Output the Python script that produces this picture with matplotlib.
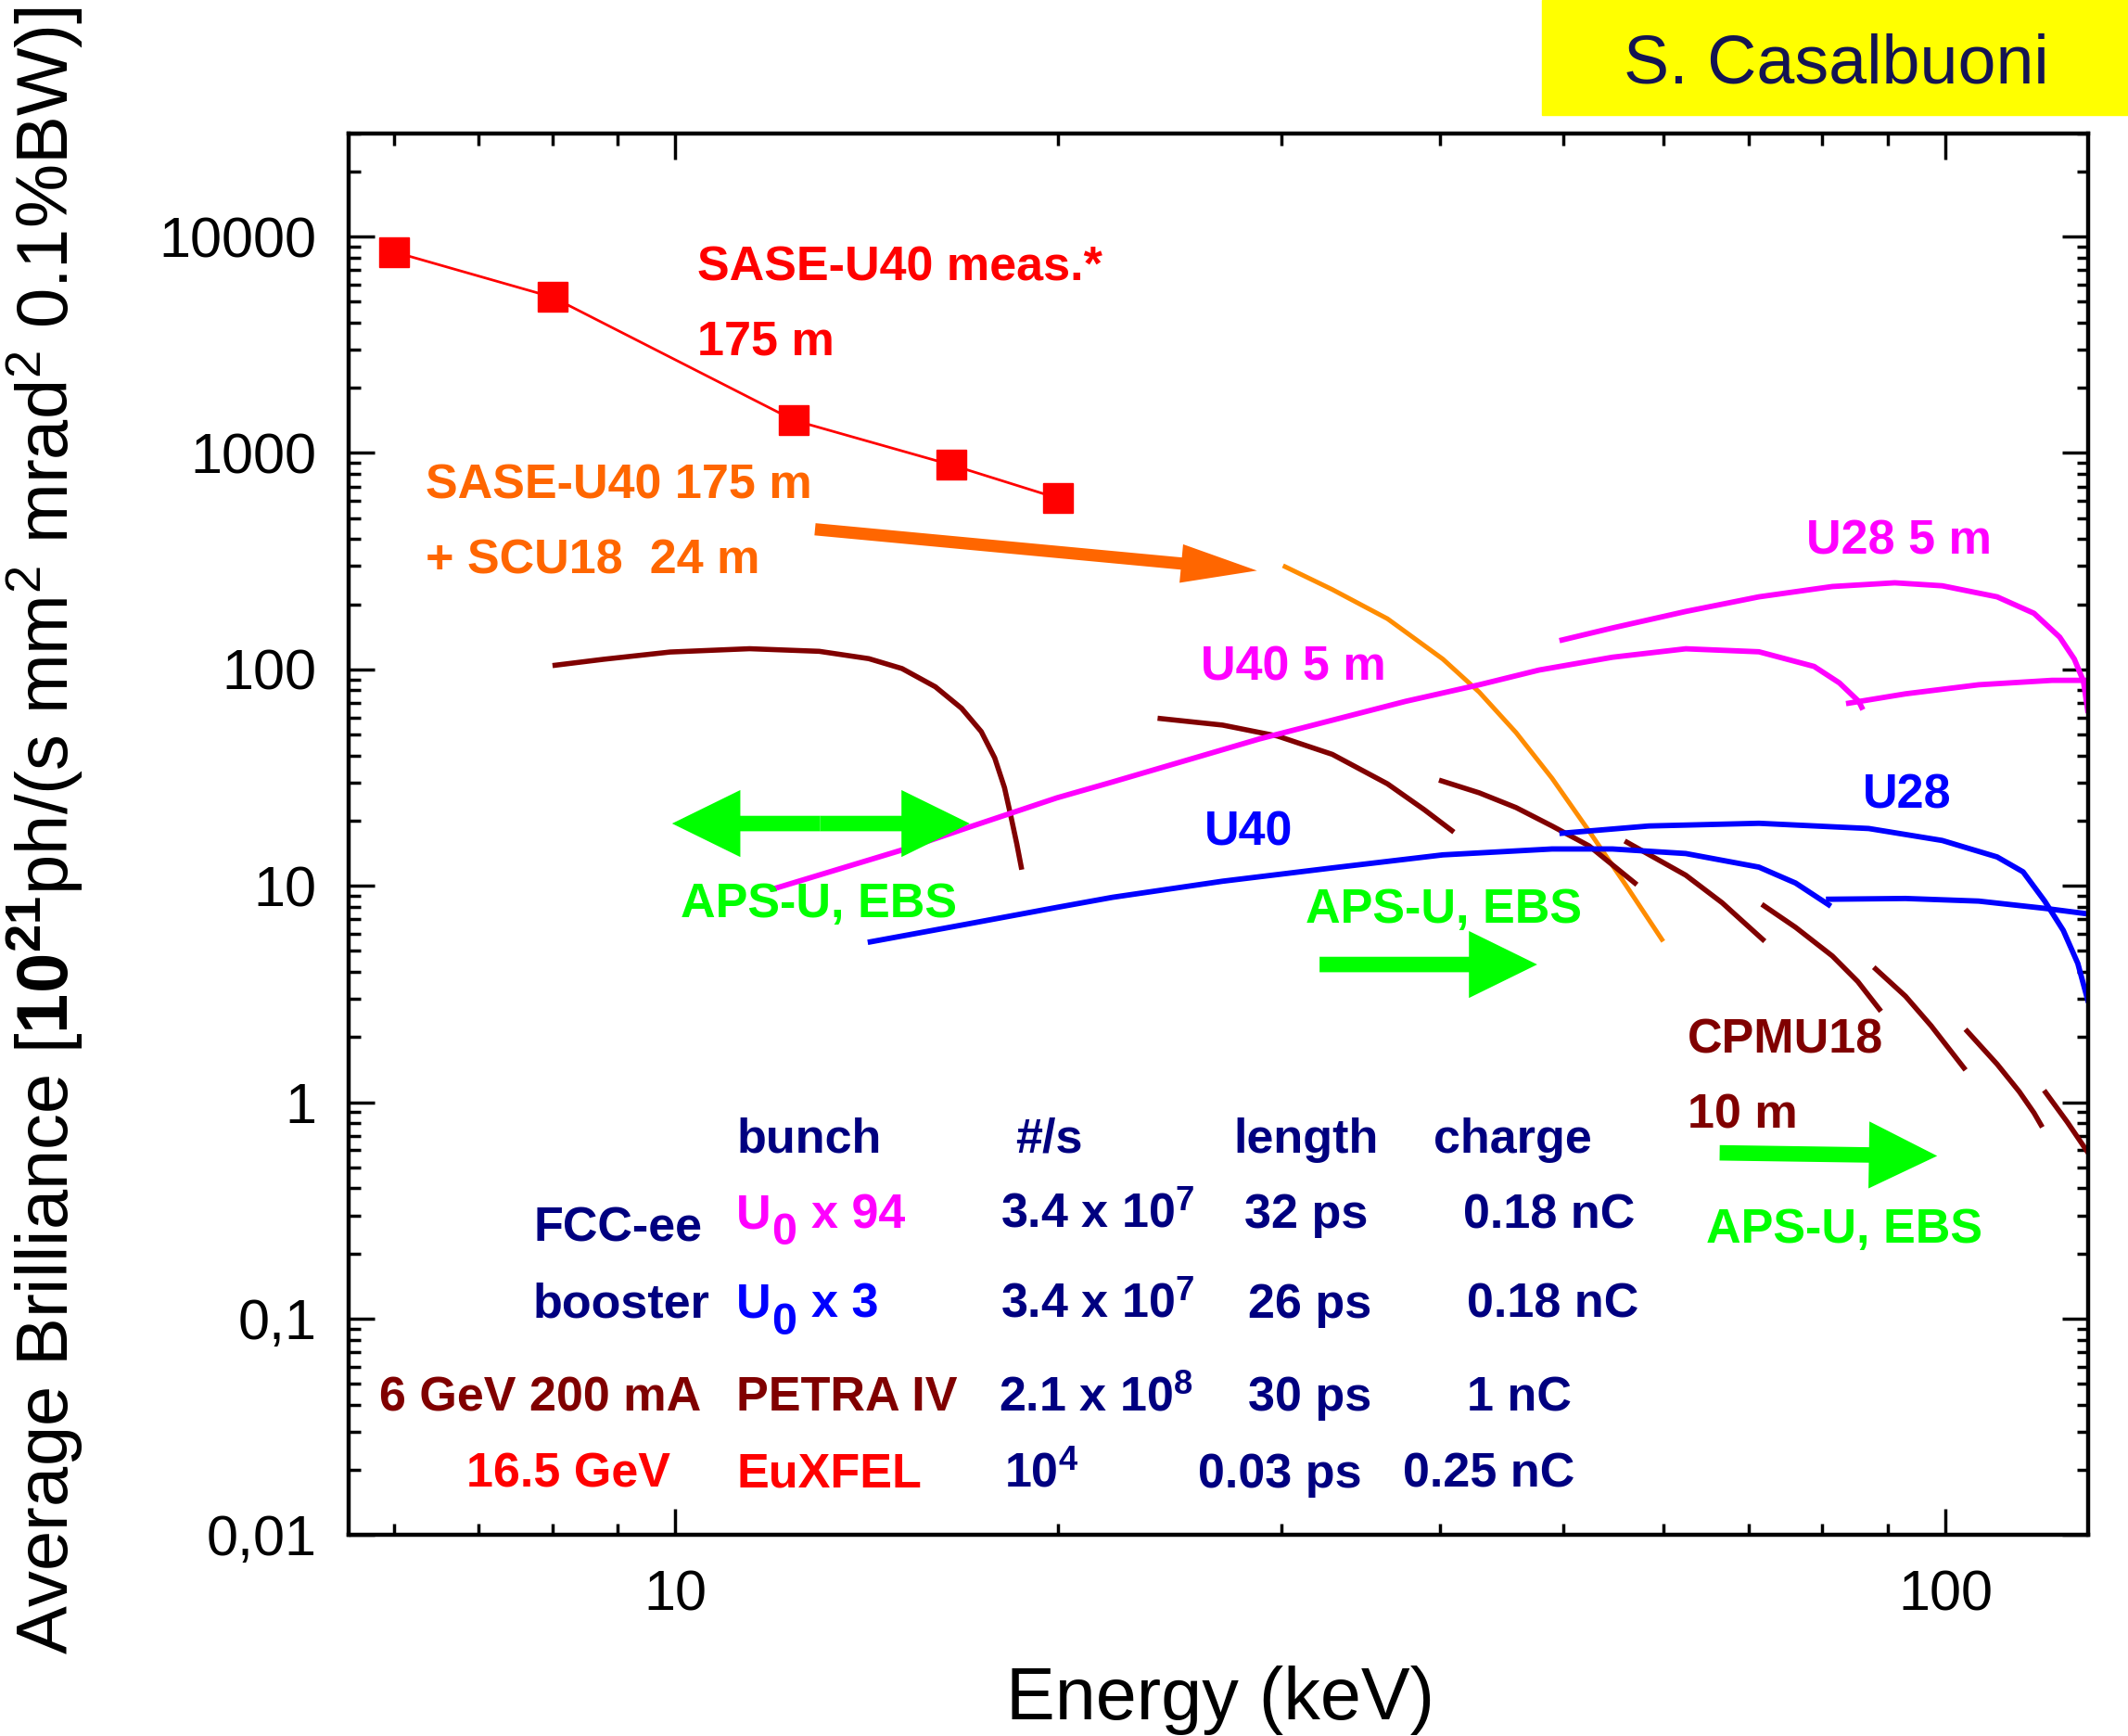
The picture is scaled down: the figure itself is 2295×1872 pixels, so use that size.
import matplotlib
matplotlib.use("Agg")
import matplotlib.pyplot as plt
from matplotlib.patches import Rectangle
from matplotlib.ticker import FixedLocator, FixedFormatter, LogLocator, NullFormatter

plt.rcParams['font.family'] = ['Liberation Sans', 'DejaVu Sans']
plt.rcParams['mathtext.fontset'] = 'custom'
plt.rcParams['mathtext.rm'] = 'Liberation Sans'
plt.rcParams['mathtext.bf'] = 'Liberation Sans:bold'
plt.rcParams['mathtext.it'] = 'Liberation Sans:italic'
plt.rcParams['mathtext.default'] = 'regular'

# EuXFEL SASE-U40 measured points
sase_E = [6.0, 8.0, 12.4, 16.5, 20.0]
sase_B = [8500, 5250, 1415, 880, 618]

# SASE-U40 175 m + SCU18 24 m
scu_E = [30.2, 32.9, 36.36, 40.2, 42.94, 45.9, 49.0, 52.4, 56.0, 59.8]
scu_B = [298.3, 233.9, 171.4, 111.6, 78.5, 51.1, 31.4, 17.9, 10.1, 5.65]

# PETRA IV CPMU18 10 m (harmonic pieces)
cpmu_E = [
    [8.04, 8.785, 9.906, 11.44, 12.98, 14.2, 15.08, 16.02, 16.8, 17.41, 17.84, 18.16, 18.38, 18.57, 18.72],
    [24.08, 26.96, 29.79, 32.9, 36.36, 38.86, 40.86],
    [40.1, 42.94, 45.9, 49.0, 52.4, 56.94],
    [56.13, 62.44, 66.7, 71.8],
    [71.95, 76.2, 81.45, 85.3, 88.7],
    [88.1, 93.0, 97.4, 103.4],
    [104.0, 109.8, 114.3, 117.4, 118.9],
    [119.9, 124.7, 130.0],
]
cpmu_B = [
    [104.5, 111.4, 120.3, 124.6, 121.2, 112.1, 100.9, 83.1, 66.1, 51.6, 39.0, 28.4, 20.7, 15.6, 12.2],
    [59.3, 55.3, 49.2, 40.5, 29.6, 22.5, 18.0],
    [30.55, 26.9, 23.0, 18.9, 15.3, 10.3],
    [15.9, 11.2, 8.35, 5.65],
    [8.09, 6.43, 4.74, 3.61, 2.69],
    [4.13, 3.09, 2.26, 1.44],
    [2.13, 1.50, 1.12, 0.893, 0.785],
    [1.11, 0.81, 0.565],
]

# FCC-ee U40 5 m / U28 5 m (magenta)
u40_5m_E = [[11.95, 15.08, 17.0, 19.97, 22.09, 28.82, 37.58, 42.94, 47.86, 54.67, 62.44, 71.3, 78.8, 82.5, 85.44, 85.9],
            [83.9, 93.0, 106.2, 121.3, 129.5]]
u40_5m_B = [[9.69, 14.64, 18.6, 25.5, 30.2, 47.7, 71.2, 84.9, 99.3, 113.8, 124.5, 120.6, 103.2, 86.6, 71.2, 66.8],
            [69.8, 77.1, 84.9, 89.0, 89.0]]
u28_5m_E = [49.9, 54.67, 62.44, 71.3, 81.45, 91.2, 99.4, 109.8, 117.4, 123.0, 126.3, 128.4, 129.4]
u28_5m_B = [136.7, 155.4, 185.2, 216.4, 241.5, 251.2, 243.4, 216.4, 181.6, 140.9, 111.6, 88.3, 64.7]

# booster U40 / U28 (blue)
u40_E = [[14.24, 17.0, 19.97, 22.09, 26.96, 32.9, 40.2, 49.0, 54.67, 62.44, 71.3, 76.2, 80.9],
         [80.9, 93.0, 106.2, 119.7, 129.4]]
u40_B = [[5.51, 6.67, 7.95, 8.85, 10.5, 12.1, 13.9, 14.8, 14.8, 14.1, 12.2, 10.3, 8.18],
         [8.67, 8.74, 8.5, 7.87, 7.42]]
u28_E = [49.9, 58.4, 71.3, 87.0, 99.4, 109.8, 115.1, 119.7, 123.8, 127.1, 129.4]
u28_B = [17.5, 18.9, 19.45, 18.4, 16.2, 13.6, 11.6, 8.5, 6.22, 4.38, 2.97]

# arrows (start, tip) in data coords
orange_arrow = [(12.88, 444), (28.7, 286)]
green_double = [(13.0, 19.4), (9.94, 19.4), (17.05, 19.4)]
green_arrows = [[(32.15, 4.33), (47.7, 4.33)], [(66.4, 0.584), (98.5, 0.565)]]

yticks = [0.01, 0.1, 1, 10, 100, 1000, 10000]
yticklabels = ['0,01', '0,1', '1', '10', '100', '1000', '10000']
xticks = [10, 100]
xticklabels = ['10', '100']

RED = '#FF0000'
ORANGE = '#FF6600'
ORANGE2 = '#FF8C00'
DRED = '#800000'
MAG = '#FF00FF'
BLUE = '#0000FF'
GREEN = '#00FF00'
NAVY = '#000080'

fig = plt.figure(figsize=(22.95, 18.72), dpi=100)
ax = fig.add_axes([0.16383, 0.11571, 0.81743, 0.80753])
ax.set_xscale('log')
ax.set_yscale('log')
ax.set_xlim(5.53, 129.5)
ax.set_ylim(0.01, 3e4)

ax.plot(sase_E, sase_B, color=RED, lw=2.0, marker='s', ms=23, mec=RED, mfc=RED)
ax.plot(scu_E, scu_B, color=ORANGE2, lw=3.6)
for e, b in zip(cpmu_E, cpmu_B):
    ax.plot(e, b, color=DRED, lw=4.0)
for e, b in zip(u40_5m_E, u40_5m_B):
    ax.plot(e, b, color=MAG, lw=4.2)
ax.plot(u28_5m_E, u28_5m_B, color=MAG, lw=4.2)
for e, b in zip(u40_E, u40_B):
    ax.plot(e, b, color=BLUE, lw=4.2)
ax.plot(u28_E, u28_B, color=BLUE, lw=4.2)

# arrows
ax.annotate('', xy=orange_arrow[1], xytext=orange_arrow[0],
            arrowprops=dict(arrowstyle='simple,head_length=59,head_width=30,tail_width=9.5',
                            mutation_scale=1, color=ORANGE, lw=0, shrinkA=0, shrinkB=0))
gstyle = 'simple,head_length=53,head_width=52,tail_width=12'
for tip in green_double[1:]:
    ax.annotate('', xy=tip, xytext=green_double[0],
                arrowprops=dict(arrowstyle=gstyle, mutation_scale=1, color=GREEN,
                                lw=0, shrinkA=0, shrinkB=0))
for start, tip in green_arrows:
    ax.annotate('', xy=tip, xytext=start,
                arrowprops=dict(arrowstyle=gstyle, mutation_scale=1, color=GREEN,
                                lw=0, shrinkA=0, shrinkB=0))

# ticks
ax.yaxis.set_major_locator(FixedLocator(yticks))
ax.yaxis.set_major_formatter(FixedFormatter(yticklabels))
ax.yaxis.set_minor_locator(LogLocator(base=10, subs=range(2, 10), numticks=20))
ax.yaxis.set_minor_formatter(NullFormatter())
ax.xaxis.set_major_locator(FixedLocator(xticks))
ax.xaxis.set_major_formatter(FixedFormatter(xticklabels))
ax.xaxis.set_minor_locator(LogLocator(base=10, subs=range(2, 10), numticks=20))
ax.xaxis.set_minor_formatter(NullFormatter())
ax.tick_params(which='both', direction='in', top=True, right=True, width=2.5, labelsize=44)
ax.tick_params(which='major', length=20)
ax.tick_params(which='minor', length=9)
ax.tick_params(axis='y', which='major', pad=25)
ax.tick_params(axis='x', which='major', pad=27)
for s in ax.spines.values():
    s.set_linewidth(3.2)

fig.text(0.5734, 0.0095, 'Energy (keV)', fontsize=57, ha='center', va='baseline')
fig.text(0.021, 0.5214,
         r'Average Brilliance [$\mathbf{10^{21}}$ph/(s mm$^2$ mrad$^2$ 0.1%BW)]',
         fontsize=56, rotation=90, ha='center', va='center')

# author box
fig.add_artist(Rectangle((0.7246, 0.9335), 0.2754, 0.0665, transform=fig.transFigure,
                         color='#FFFF00', zorder=0))
fig.text(0.8629, 0.9523, 'S. Casalbuoni', fontsize=53, color='#141452',
         ha='center', va='baseline')

# curve labels
fs = 37.5
def label(x, y, s, c):
    ax.text(x, y, s, color=c, fontsize=fs, fontweight='bold', transform=ax.transAxes,
            ha='left', va='baseline')

label(0.2004, 0.8948, 'SASE-U40 meas.*', RED)
label(0.2004, 0.8417, '175 m', RED)
label(0.0440, 0.7398, 'SASE-U40 175 m', ORANGE)
label(0.0440, 0.6860, '+ SCU18  24 m', ORANGE)
label(0.4900, 0.6100, 'U40 5 m', MAG)
label(0.8379, 0.6995, 'U28 5 m', MAG)
label(0.8702, 0.5183, 'U28', BLUE)
label(0.4918, 0.4923, 'U40', BLUE)
label(0.1907, 0.4406, 'APS-U, EBS', GREEN)
label(0.5501, 0.4367, 'APS-U, EBS', GREEN)
label(0.7803, 0.2088, 'APS-U, EBS', GREEN)
label(0.7696, 0.3442, 'CPMU18', DRED)
label(0.7696, 0.2904, '10 m', DRED)

# table
label(0.2230, 0.2731, 'bunch', NAVY)
label(0.3832, 0.2731, '#/s', NAVY)
label(0.5085, 0.2731, 'length', NAVY)
label(0.6235, 0.2731, 'charge', NAVY)

label(0.1061, 0.2096, 'FCC-ee', NAVY)
label(0.1061, 0.1556, 'booster', NAVY)
label(0.0176, 0.0889, '6 GeV 200 mA', DRED)
label(0.0676, 0.0342, '16.5 GeV', RED)

def u0(y, rest, c):
    for s, dx, dy, size in [('U', 0, 0, fs), ('0', 27, -13, 35), (rest, 57.8, 0, fs)]:
        ax.annotate(s, xy=(0.2230, y), xycoords='axes fraction', xytext=(dx, dy),
                    textcoords='offset points', color=c, fontsize=size,
                    fontweight='bold', ha='left', va='baseline')

u0(0.2192, 'x 94', MAG)
u0(0.1551, 'x 3', BLUE)
label(0.2230, 0.0889, 'PETRA IV', DRED)
label(0.2230, 0.0342, 'EuXFEL', RED)

label(0.3746, 0.2192, r'3.4 x 10$^7$', NAVY)
label(0.3746, 0.1551, r'3.4 x 10$^7$', NAVY)
label(0.3737, 0.0889, r'2.1 x 10$^8$', NAVY)
label(0.3770, 0.0342, r'10$^4$', NAVY)

label(0.5150, 0.2192, '32 ps', NAVY)
label(0.5169, 0.1551, '26 ps', NAVY)
label(0.5169, 0.0889, '30 ps', NAVY)
label(0.4883, 0.0342, '0.03 ps', NAVY)

label(0.6407, 0.2192, '0.18 nC', NAVY)
label(0.6430, 0.1551, '0.18 nC', NAVY)
label(0.6430, 0.0889, '1 nC', NAVY)
label(0.6061, 0.0342, '0.25 nC', NAVY)

fig.savefig('out.png', dpi=100)
